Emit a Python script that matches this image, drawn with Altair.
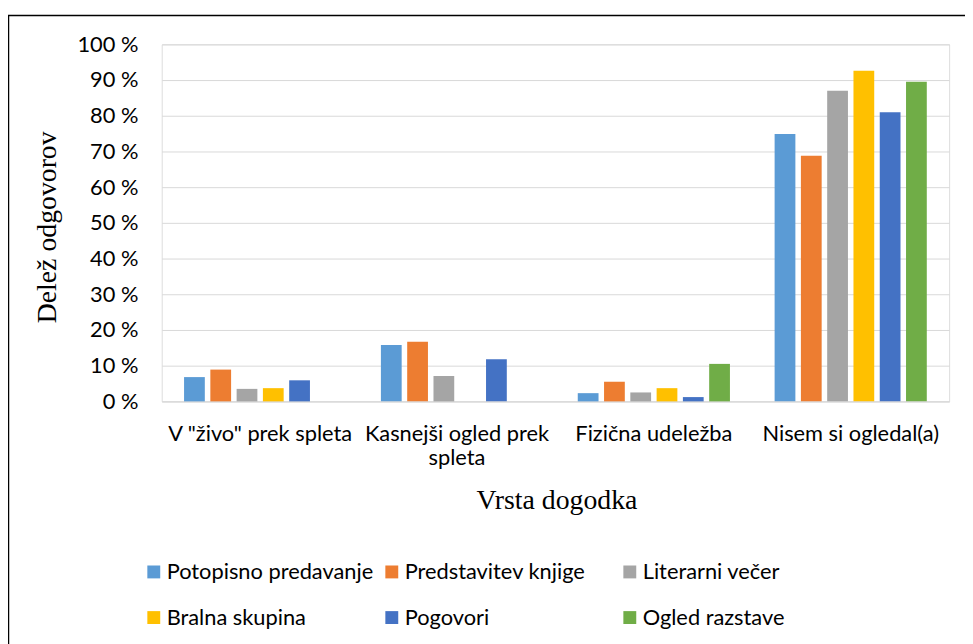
import altair as alt
import pandas as pd

categories = ['V "živo" prek spleta', 'Kasnejši ogled prek spleta',
              'Fizična udeležba', 'Nisem si ogledal(a)']
series = ['Potopisno predavanje', 'Predstavitev knjige', 'Literarni večer',
          'Bralna skupina', 'Pogovori', 'Ogled razstave']
colors = ['#5B9BD5', '#ED7D31', '#A5A5A5', '#FFC000', '#4472C4', '#70AD47']

potopisno = [6.8, 15.8, 2.3, 74.9]
predstavitev = [8.9, 16.7, 5.5, 68.8]
literarni = [3.5, 7.1, 2.5, 87.0]
bralna = [3.7, 0.0, 3.7, 92.6]
pogovori = [5.9, 11.8, 1.2, 81.0]
razstava = [0.0, 0.0, 10.5, 89.5]

values = [potopisno, predstavitev, literarni, bralna, pogovori, razstava]
rows = []
for s, vals in zip(series, values):
    for c, v in zip(categories, vals):
        rows.append({"kategorija": c, "serija": s, "delez": v})
df = pd.DataFrame(rows)

label_expr = ("datum.label == 'Kasnejši ogled prek spleta' ? "
              "['Kasnejši ogled prek', 'spleta'] : datum.label")

bars = alt.Chart(df).mark_bar().encode(
    x=alt.X("kategorija:N", sort=categories,
            scale=alt.Scale(paddingInner=0, paddingOuter=0),
            axis=alt.Axis(title="Vrsta dogodka", labelAngle=0, labelExpr=label_expr,
                          labelFont="Lato", labelFontSize=22, labelColor="#000000",
                          labelLimit=400,
                          labelPadding=22, labelLineHeight=25, ticks=False,
                          domainColor="#D9D9D9", domainWidth=1,
                          titleFont="Liberation Serif", titleFontSize=28,
                          titleFontWeight="normal", titleColor="#000000",
                          titleX=398, titleY=100, titleBaseline="middle")),
    xOffset=alt.XOffset("serija:N", sort=series,
                        scale=alt.Scale(paddingInner=0.21, paddingOuter=0.85)),
    y=alt.Y("delez:Q", scale=alt.Scale(domain=[0, 100], nice=False),
            axis=alt.Axis(title="Delež odgovorov", values=list(range(0, 101, 10)),
                          labelExpr="datum.value + ' %'",
                          labelFont="Lato", labelFontSize=22, labelColor="#000000",
                          labelPadding=24, ticks=False, domain=False,
                          gridColor="#D9D9D9", gridWidth=1,
                          titleFont="Liberation Serif", titleFontSize=28,
                          titleFontWeight="normal", titleColor="#000000",
                          titleAngle=-90, titleX=-115, titleY=184,
                          titleAlign="center", titleBaseline="middle")),
    color=alt.Color("serija:N", sort=series,
                    scale=alt.Scale(domain=series, range=colors),
                    legend=alt.Legend(title=None, orient="none", legendX=-19, legendY=521,
                                      direction="horizontal", padding=0,
                                      columns=3, gridAlign="all", symbolType="square",
                                      symbolSize=169, symbolStrokeWidth=0,
                                      labelFont="Lato", labelFontSize=22,
                                      labelColor="#000000", labelLimit=400,
                                      labelOffset=2, columnPadding=7, rowPadding=24)),
)

frame_df = pd.DataFrame({"f": [0]})
frame = alt.Chart(frame_df).mark_rect(filled=False, stroke="#000000", strokeWidth=1.5).encode(
    x=alt.value(-154.5), x2=alt.value(1000), y=alt.value(-29), y2=alt.value(800)
)

chart = alt.layer(bars, frame).properties(
    width=794, height=360,
    autosize=alt.AutoSizeParams(type="none"),
    padding={"left": 155, "top": 34, "right": 16, "bottom": 242},
).configure_view(stroke=None).configure(background="white")

chart.save("out.html", embed_options={"renderer": "svg", "actions": False})
